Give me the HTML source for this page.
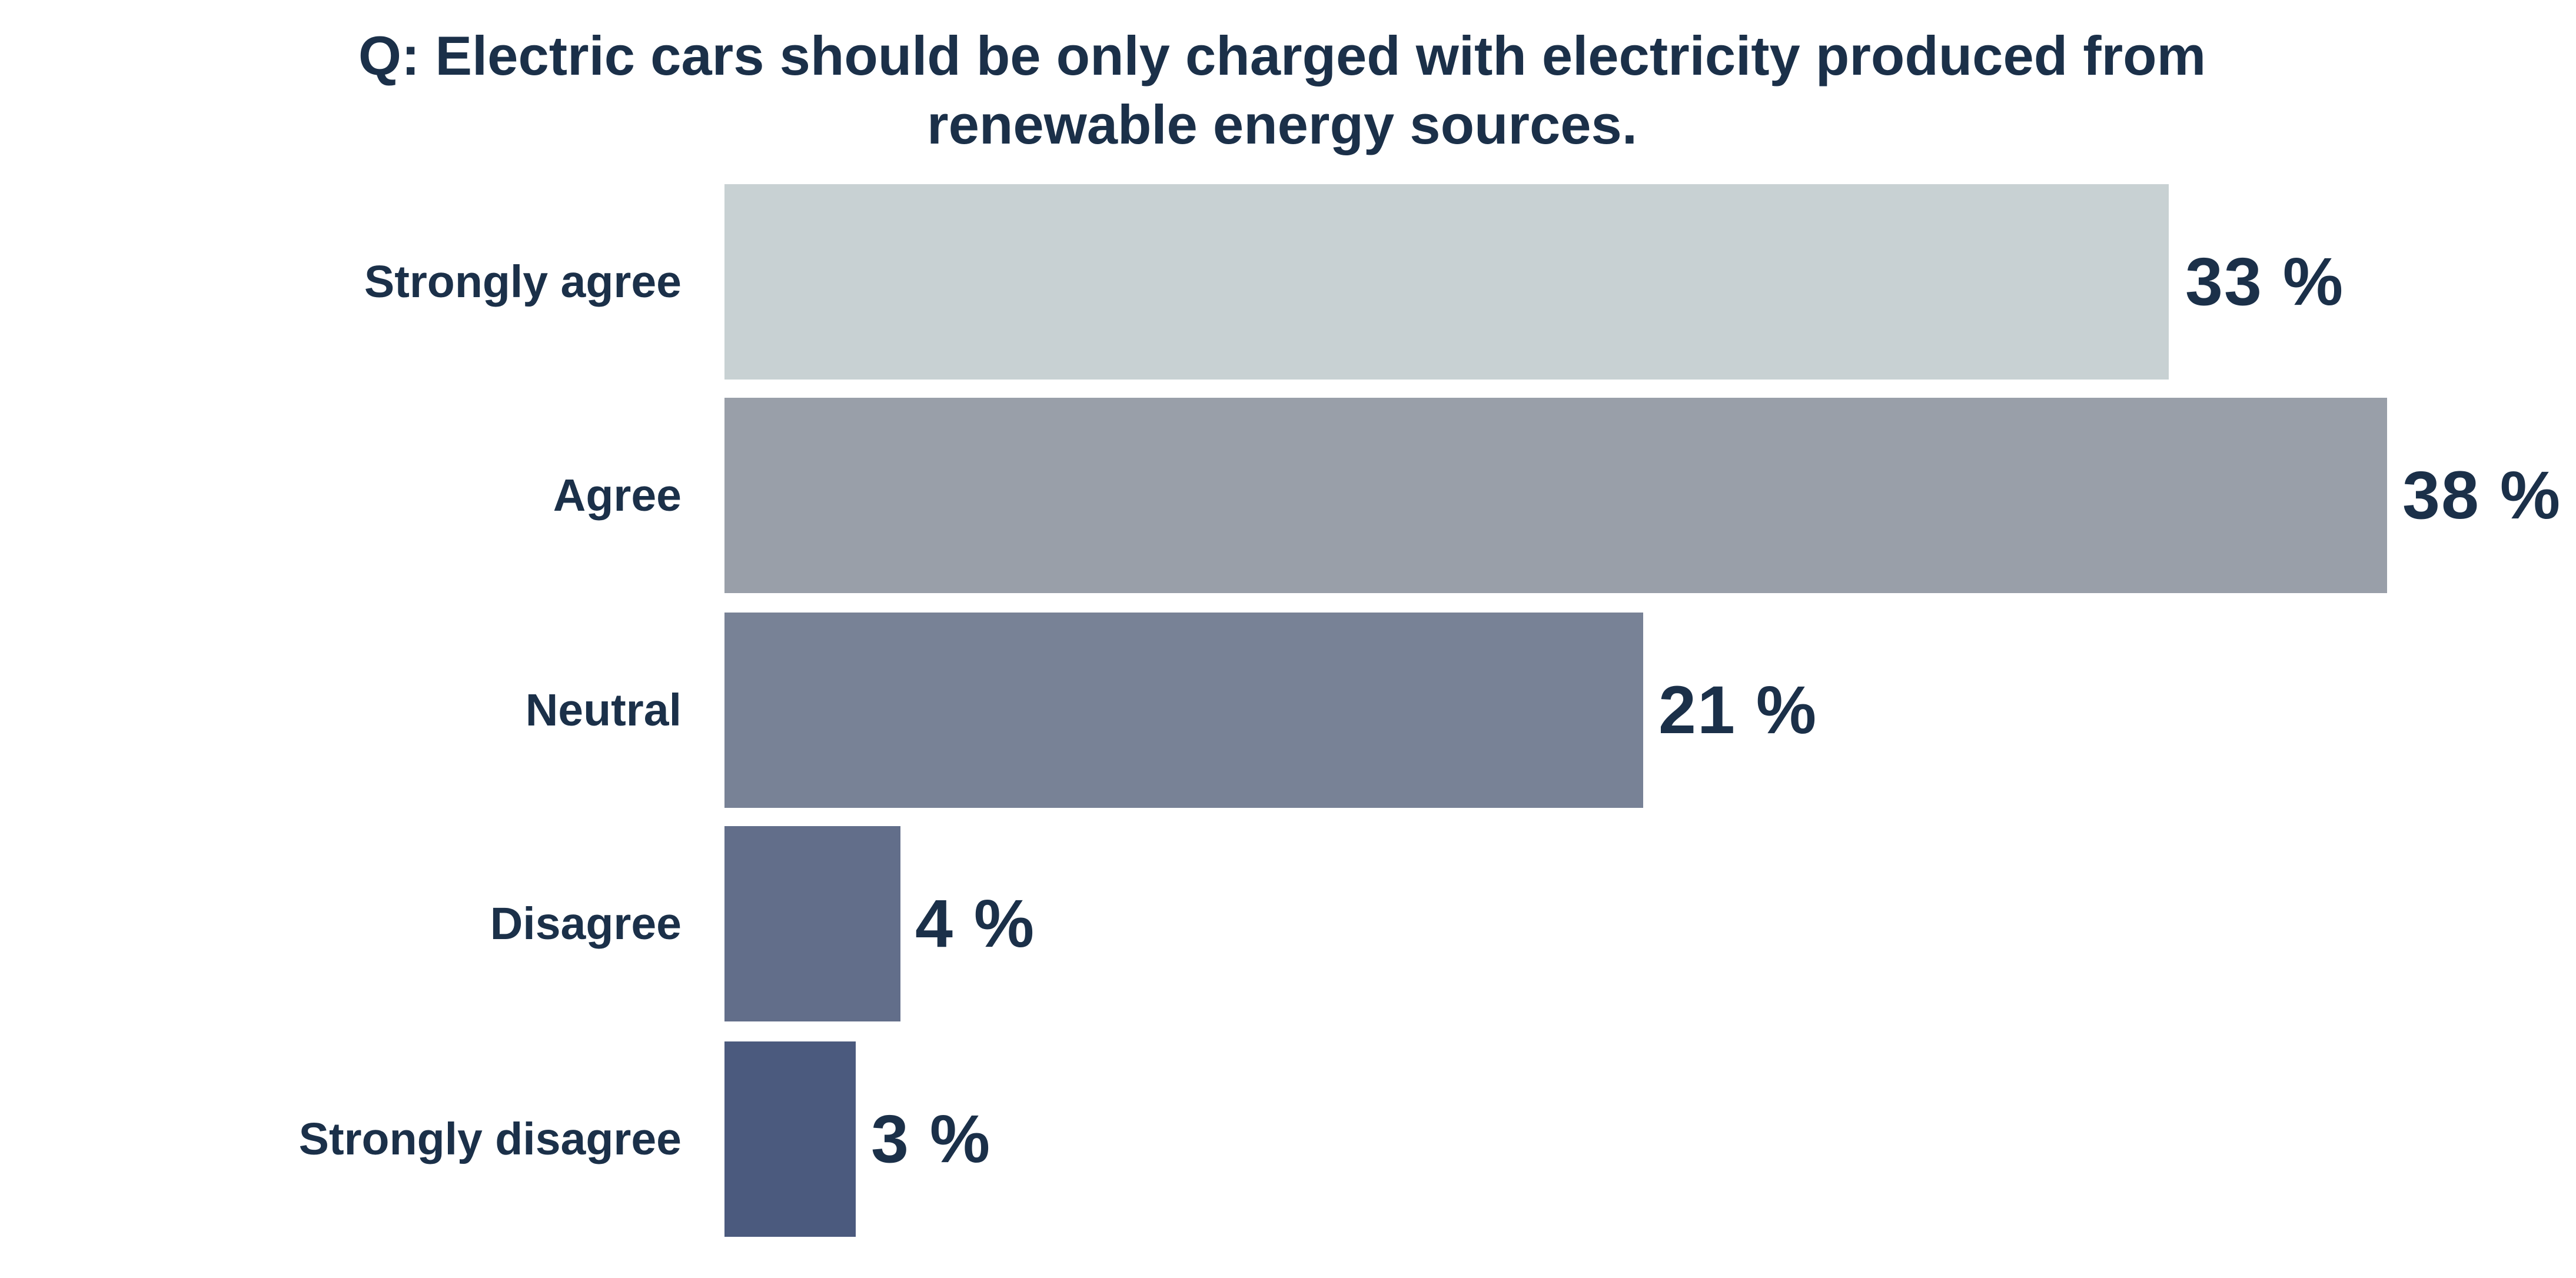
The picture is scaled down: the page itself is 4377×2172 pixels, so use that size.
<!DOCTYPE html>
<html><head><meta charset="utf-8"><style>
body{margin:0;width:4377px;height:2172px;background:#fff;overflow:hidden;position:relative;font-family:"Liberation Sans",sans-serif;font-weight:bold;color:#1b3049}
.t{position:absolute;left:-10px;width:4377px;text-align:center;font-size:94px;line-height:117px;top:36px}
.b{position:absolute;left:1231px;height:332px}
.l{position:absolute;right:3219px;font-size:77px;line-height:80px}
.v{position:absolute;font-size:115px;line-height:130px;letter-spacing:2px}
</style></head><body>
<div class="t">Q: Electric cars should be only charged with electricity produced from<br>renewable energy sources.</div>
<div class="b" style="top:313px;width:2454px;background:#c8d1d3"></div>
<div class="b" style="top:676px;width:2825px;background:#999fa9"></div>
<div class="b" style="top:1041px;width:1561px;background:#788296"></div>
<div class="b" style="top:1404px;width:299px;background:#626e8a"></div>
<div class="b" style="top:1770px;width:223px;background:#4b5a7e"></div>
<div class="l" style="top:439px">Strongly agree</div>
<div class="l" style="top:802px">Agree</div>
<div class="l" style="top:1167px">Neutral</div>
<div class="l" style="top:1530px">Disagree</div>
<div class="l" style="top:1896px">Strongly disagree</div>
<div class="v" style="left:3713px;top:414px">33 %</div>
<div class="v" style="left:4082px;top:777px">38 %</div>
<div class="v" style="left:2818px;top:1142px">21 %</div>
<div class="v" style="left:1555px;top:1505px">4 %</div>
<div class="v" style="left:1480px;top:1871px">3 %</div>
</body></html>
